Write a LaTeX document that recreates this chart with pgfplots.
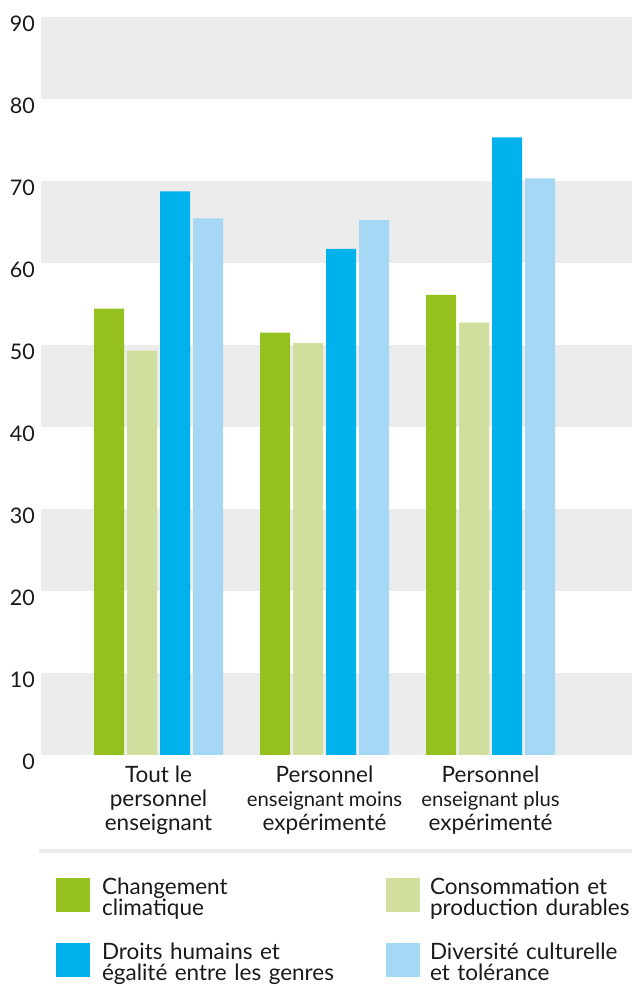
\documentclass[border=0pt]{standalone}
\usepackage{fontspec}
\setmainfont{Lato}
\usepackage{pgfplots}
\pgfplotsset{compat=1.18}
\definecolor{cgreen}{HTML}{95C11F}
\definecolor{clgreen}{HTML}{D0DF9D}
\definecolor{cblue}{HTML}{00B2EC}
\definecolor{clblue}{HTML}{A4D8F5}
\definecolor{band}{HTML}{ECECEC}
\definecolor{textc}{HTML}{1A1A1A}
\begin{document}
\begin{tikzpicture}
\begin{axis}[
  set layers,
  at={(41pt,231pt)}, anchor=south west,
  scale only axis, width=591pt, height=738.3pt,
  xmin=-0.708, xmax=2.852, ymin=0, ymax=90,
  axis line style={draw=none},
  major tick length=0pt,
  ytick={0,10,...,90},
  xtick={0,1,2},
  xticklabels={{Tout le\\personnel\\enseignant},
               {Personnel\\{\fontsize{20.3}{24}\selectfont enseignant moins}\\expérimenté},
               {Personnel\\{\fontsize{20.3}{24}\selectfont enseignant plus}\\expérimenté}},
  /pgf/number format/assume math mode=true,
  yticklabel style={font=\fontsize{21.5}{24}\selectfont, text=textc, anchor=east, inner sep=0pt, xshift=-6pt, yshift=-7pt},
  xticklabel style={font=\fontsize{22.5}{24}\selectfont, text=textc, align=center, anchor=north, inner sep=0pt, yshift=-10.3pt},
  ybar=3pt, bar width=30pt,
  legend style={at={(0.0254,-0.1660)}, anchor=north west, draw=none, fill=none,
    inner sep=0pt, outer sep=0pt, legend columns=2, row sep=31pt, column sep=0pt,
    font=\fontsize{22.5}{21.5}\selectfont, text=textc,
    nodes={inner sep=0pt, text width=270pt, align=left},
    /tikz/column 1/.style={column sep=12pt},
    /tikz/column 2/.style={column sep=14pt},
    /tikz/column 3/.style={column sep=10pt}},
  legend cell align=left,
  legend image code/.code={\fill[#1] (0pt,-25pt) rectangle (34pt,8.5pt);},
]
\begin{pgfonlayer}{axis background}
\fill[band] (axis cs:-0.708,0) rectangle (axis cs:2.852,10);
\fill[band] (axis cs:-0.708,20) rectangle (axis cs:2.852,30);
\fill[band] (axis cs:-0.708,40) rectangle (axis cs:2.852,50);
\fill[band] (axis cs:-0.708,60) rectangle (axis cs:2.852,70);
\fill[band] (axis cs:-0.708,80) rectangle (axis cs:2.852,90);
\end{pgfonlayer}
\addplot[fill=cgreen, draw=none] coordinates {(0,54.4) (1,51.5) (2,56.1)};
\addplot[fill=clgreen, draw=none] coordinates {(0,49.3) (1,50.2) (2,52.7)};
\addplot[fill=cblue, draw=none] coordinates {(0,68.7) (1,61.7) (2,75.3)};
\addplot[fill=clblue, draw=none] coordinates {(0,65.4) (1,65.2) (2,70.3)};
\addlegendentry{Changement\\climatique}
\addlegendentry{Consommation et\\production durables}
\addlegendentry{Droits humains et\\égalité entre les genres}
\addlegendentry{Diversité culturelle\\et tolérance}
\end{axis}
\fill[band] (39pt,133pt) rectangle (632pt,137pt);
\pgfresetboundingbox
\path (0,0) rectangle (632pt,986pt);
\end{tikzpicture}
\end{document}
